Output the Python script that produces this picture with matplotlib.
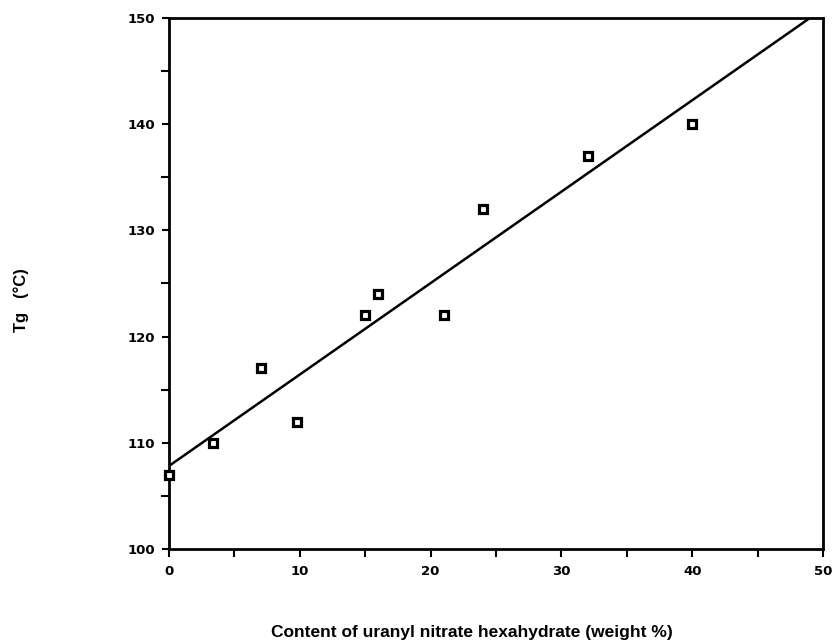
import matplotlib
matplotlib.use('Agg')
import matplotlib.pyplot as plt
import numpy as np
from matplotlib.ticker import MultipleLocator

# uranyl nitrate hexahydrate content (wt %) vs Tg (deg C)
content = [0, 3.4, 7, 9.8, 15, 16, 21, 24, 32, 40]
tg = [107, 110, 117, 112, 122, 124, 122, 132, 137, 140]

plt.rcParams['font.family'] = ['DejaVu Sans']
plt.rcParams['font.weight'] = 'bold'

fig = plt.figure(figsize=(8.35, 6.43), dpi=100)
ax = fig.add_axes([169 / 835, 1 - 549 / 643, 654 / 835, 531 / 643])

# least squares line
k, b = np.polyfit(content, tg, 1)
xx = np.array([0, 50])
ax.plot(xx, k * xx + b, color='black', lw=1.8)

ax.plot(content, tg, 's', ms=5.2, mfc='white', mec='black', mew=2.3,
        clip_on=False, zorder=3)

ax.set_xlim(0, 50)
ax.set_ylim(100, 150)
ax.xaxis.set_major_locator(MultipleLocator(10))
ax.xaxis.set_minor_locator(MultipleLocator(5))
ax.yaxis.set_major_locator(MultipleLocator(10))
ax.yaxis.set_minor_locator(MultipleLocator(5))
ax.tick_params(which='both', direction='out', width=1.5, length=5.5,
               labelsize=9.5)
ax.tick_params(axis='x', pad=6)
ax.tick_params(axis='y', pad=5, length=5)
for s in ax.spines.values():
    s.set_linewidth(2)
for lab in ax.get_xticklabels() + ax.get_yticklabels():
    lab.set_fontweight('bold')

fig.text(472 / 835, 1 - 632 / 643, 'Content of uranyl nitrate hexahydrate (weight %)',
         ha='center', va='center', fontsize=12.5, fontweight='bold',
         family='Liberation Sans')
fig.text(21 / 835, 1 - 300 / 643, 'Tg   (°C)', rotation=90,
         ha='center', va='center', fontsize=12, fontweight='bold',
         family='Liberation Sans')

fig.savefig('out.png', dpi=100)
